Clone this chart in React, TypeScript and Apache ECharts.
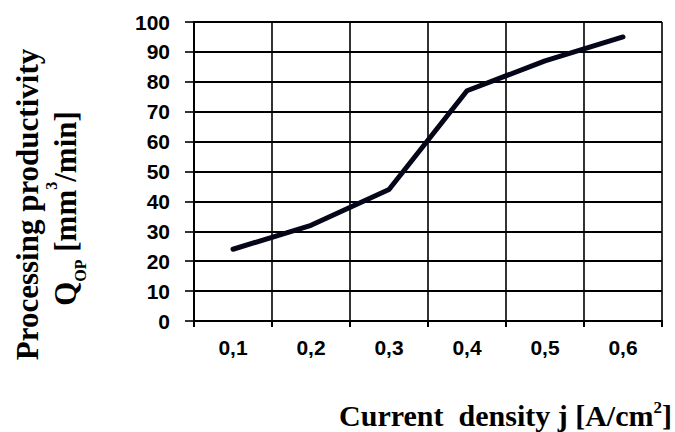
import React, { useEffect, useRef } from "react";
import * as echarts from "echarts";

const categories = ["0,1", "0,2", "0,3", "0,4", "0,5", "0,6"];
const productivity = [24, 32, 44, 77, 87, 95];
const yTicks = { min: 0, max: 100, interval: 10 };
const yTitleLine1 = "Processing productivity";
const yTitleLine2 = "Q{sub|OP} [mm{sup|3}/min]";
const xTitle = "Current  density j [A/cm{sup|2}]";

export default function App() {
  const ref = useRef<HTMLDivElement>(null);
  useEffect(() => {
    if (!ref.current) return;
    const chart = echarts.init(ref.current, null, { renderer: "svg" });
    const serif = "Liberation Serif";
    const sans = "Liberation Sans";
    chart.setOption({
      animation: false,
      backgroundColor: "#ffffff",
      grid: { left: 194, top: 22, width: 468, height: 299, containLabel: false },
      xAxis: {
        type: "category",
        data: categories,
        boundaryGap: true,
        axisLine: { show: true, lineStyle: { color: "#000", width: 2 } },
        axisTick: { show: true, length: 6, inside: false, lineStyle: { color: "#000", width: 2 } },
        axisLabel: { color: "#000", fontFamily: sans, fontWeight: "bold", fontSize: 21, margin: 16 },
        splitLine: { show: true, lineStyle: { color: "#000", width: 1.6 } },
      },
      yAxis: {
        type: "value",
        min: yTicks.min,
        max: yTicks.max,
        interval: yTicks.interval,
        axisLine: { show: true, lineStyle: { color: "#000", width: 2 } },
        axisTick: { show: true, length: 9, lineStyle: { color: "#000", width: 1.6 } },
        axisLabel: { color: "#000", fontFamily: sans, fontWeight: "bold", fontSize: 21, margin: 24 },
        splitLine: { show: true, lineStyle: { color: "#000", width: 1.8 } },
      },
      series: [
        {
          type: "line",
          data: productivity,
          showSymbol: false,
          symbol: "none",
          lineStyle: { color: "#06061a", width: 5, cap: "round", join: "round" },
        },
      ],
      graphic: [
        {
          type: "text",
          x: 27,
          y: 204.5,
          rotation: Math.PI / 2,
          style: {
            text: yTitleLine1,
            fontFamily: serif,
            fontWeight: "bold",
            fontSize: 31,
            fill: "#000",
            align: "center",
            verticalAlign: "middle",
          },
        },
        {
          type: "text",
          x: 65.5,
          y: 208.5,
          rotation: Math.PI / 2,
          style: {
            text: yTitleLine2,
            fontFamily: serif,
            fontWeight: "bold",
            fontSize: 31,
            lineHeight: 45,
            fill: "#000",
            align: "center",
            verticalAlign: "middle",
            rich: {
              sub: { fontFamily: serif, fontWeight: "bold", fontSize: 16, lineHeight: 30, verticalAlign: "bottom", fill: "#000" },
              sup: { fontFamily: serif, fontWeight: "bold", fontSize: 16, lineHeight: 17, verticalAlign: "top", fill: "#000" },
            },
          },
        },
        {
          type: "text",
          x: 672,
          y: 415,
          style: {
            text: xTitle,
            fontFamily: serif,
            fontWeight: "bold",
            fontSize: 30,
            lineHeight: 32,
            fill: "#000",
            align: "right",
            verticalAlign: "middle",
            rich: {
              sup: { fontFamily: serif, fontWeight: "bold", fontSize: 17, lineHeight: 26, verticalAlign: "top", fill: "#000" },
            },
          },
        },
      ],
    });
    return () => chart.dispose();
  }, []);
  return (
    <div
      ref={ref}
      style={{ position: "fixed", left: 0, top: 0, width: 675, height: 432, background: "#fff" }}
    />
  );
}
